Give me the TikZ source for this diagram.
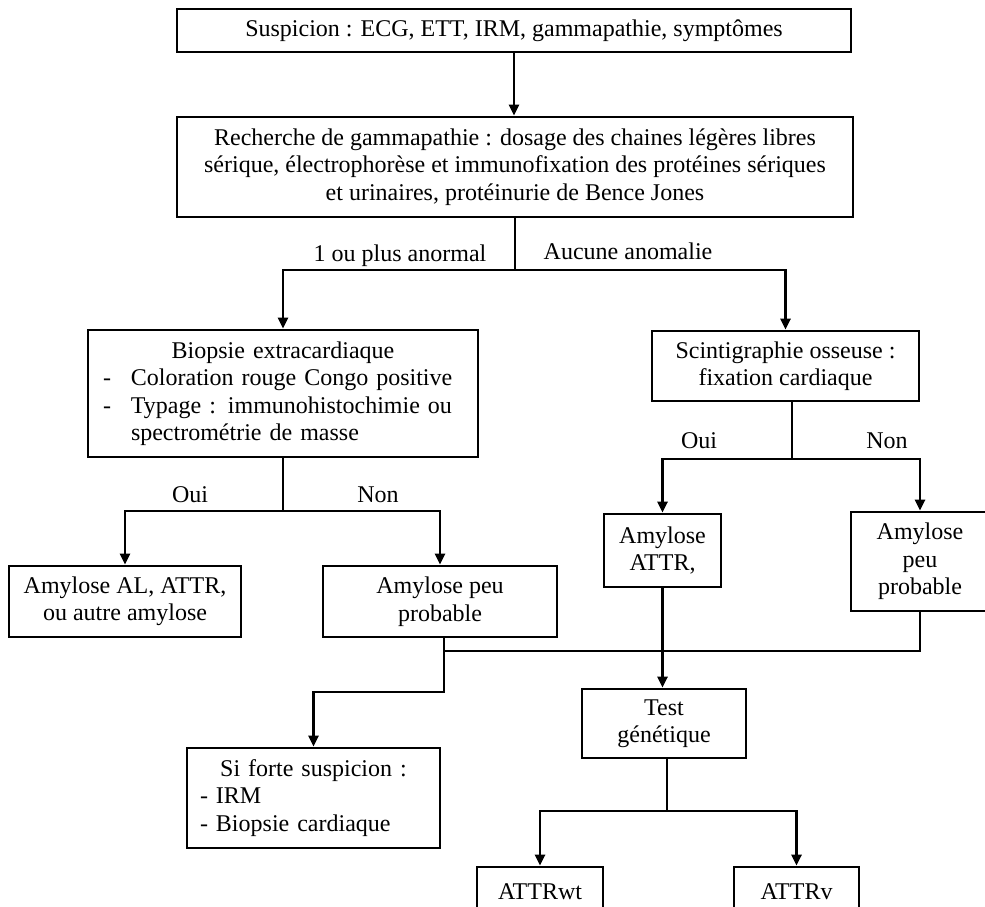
\documentclass[tikz,border=0pt]{standalone}
\usepackage{fontspec}
\setmainfont{Liberation Serif}
\usetikzlibrary{arrows.meta}
\tikzset{
  txt/.style={font=\fontsize{24}{27.5}\selectfont},
  box/.style={txt, draw, line width=2.8pt, align=center, inner sep=0pt},
  lab/.style={txt, inner sep=0pt, anchor=base},
  conn/.style={line width=2.8pt},
  arr/.style={conn, -{Triangle[length=11pt,width=10pt]}}
}
\begin{document}
\begin{tikzpicture}[x=1pt,y=-1pt]
\useasboundingbox (0,0) rectangle (985,907);
\clip (0,0) rectangle (985,907);
\fill[white] (0,0) rectangle (985,907);

\node[box, minimum width=674pt, minimum height=43pt] (top) at (514,30.5)
  {Suspicion : ECG, ETT, IRM, gammapathie, symptômes};
\node[box, minimum width=676pt, minimum height=100pt] (rech) at (515,167)
  {Recherche de gammapathie : dosage des chaines légères libres\\
   sérique, électrophorèse et immunofixation des protéines sériques\\
   et urinaires, protéinurie de Bence Jones};
\node[box, minimum width=390pt, minimum height=127pt, text width=360pt, align=left] (biop) at (283,393.5)
  {\makebox[\linewidth]{Biopsie extracardiaque}\\
   \makebox[28pt][l]{-}Coloration rouge Congo positive\\
   \makebox[28pt][l]{-}Typage : immunohistochimie ou\\
   \hspace*{28pt}spectrométrie de masse};
\node[box, minimum width=267pt, minimum height=70pt] (scint) at (785.5,366)
  {Scintigraphie osseuse :\\fixation cardiaque};
\node[box, minimum width=232pt, minimum height=71pt] (amyAL) at (125,601.5)
  {Amylose AL, ATTR,\\ou autre amylose};
\node[box, minimum width=234pt, minimum height=71pt] (amyPP1) at (440,601.5)
  {Amylose peu\\probable};
\node[box, minimum width=117pt, minimum height=73pt] (amyATTR) at (662.5,550.5)
  {Amylose\\ATTR,};
\node[box, minimum width=138pt, minimum height=99pt] (amyPP2) at (920,561.5)
  {Amylose\\peu\\probable};
\node[box, minimum width=164pt, minimum height=69pt] (test) at (664,723.5)
  {Test\\génétique};
\node[box, minimum width=253pt, minimum height=100pt, text width=227pt, align=left] (forte) at (313.5,798)
  {\makebox[\linewidth]{Si forte suspicion :}\\- IRM\\- Biopsie cardiaque};
\node[box, minimum width=126pt, minimum height=50pt] (wt) at (540,892) {ATTRwt};
\node[box, minimum width=125pt, minimum height=50pt] (v) at (796.5,892) {ATTRv};

% labels
\node[lab] (l1) at (400,261) {1 ou plus anormal};
\node[lab] (l2) at (628,259) {Aucune anomalie};
\node[lab] (oui1) at (190,502) {Oui};
\node[lab] (non1) at (378,502) {Non};
\node[lab] (oui2) at (699,448) {Oui};
\node[lab] (non2) at (887,448) {Non};

% connectors
\coordinate (s1) at (515,270);
\coordinate (s2) at (283,511);
\coordinate (s3) at (792,459);
\coordinate (s4) at (667,811);
\coordinate (j1) at (444,651);
\coordinate (j2) at (444,692);

\draw[arr] (top.south) -- (top.south |- rech.north);
\draw[conn] (rech.south) -- (s1);
\draw[arr] (s1) -| (biop.north);
\draw[arr] (s1) -| (scint.north);

\draw[conn] (biop.south) -- (s2);
\draw[arr] (s2) -| (amyAL.north);
\draw[arr] (s2) -| (amyPP1.north);

\draw[conn] (s3 |- scint.south) -- (s3);
\draw[arr] (s3) -| (amyATTR.north);
\draw[arr] (s3) -| (amyPP2.north);

\draw[conn] (amyPP2.south) |- (j1);
\draw[arr] (j2 |- amyPP1.south) -- (j2) -| (forte.north);
\draw[arr] (amyATTR.south) -- (amyATTR.south |- test.north);

\draw[conn] (s4 |- test.south) -- (s4);
\draw[arr] (s4) -| (wt.north);
\draw[arr] (s4) -| (v.north);
\end{tikzpicture}
\end{document}
